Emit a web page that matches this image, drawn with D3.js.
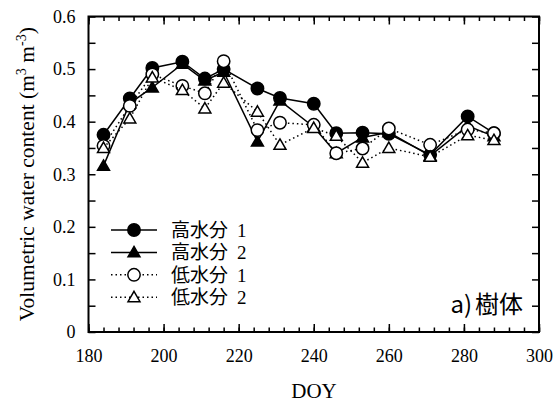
<!DOCTYPE html>
<meta charset="utf-8">
<style>
body { margin: 0; background: #fff; }
</style>
<svg class="chart"></svg>
<script src="https://d3js.org/d3.v7.min.js"></script>
<script>

var width = 555,
    height = 403;

var doy = [184, 191, 197, 205, 211, 216, 225, 231, 240, 246, 253, 260, 271, 281, 288];

var high1 = [0.375, 0.444, 0.502, 0.514, 0.482, 0.500, 0.463, 0.445, 0.434, 0.378, 0.379, 0.377, 0.337, 0.410, 0.378];
var high2 = [0.316, 0.435, 0.465, 0.510, 0.478, 0.495, 0.362, 0.440, 0.390, 0.340, 0.370, 0.380, 0.335, 0.392, 0.372];
var low1  = [0.354, 0.430, 0.490, 0.468, 0.454, 0.515, 0.384, 0.398, 0.394, 0.340, 0.349, 0.387, 0.356, 0.385, 0.378];
var low2  = [0.350, 0.406, 0.484, 0.460, 0.425, 0.474, 0.419, 0.356, 0.388, 0.373, 0.322, 0.350, 0.333, 0.374, 0.365];

var seriesNames = ["高水分", "高水分", "低水分", "低水分"];
var seriesNums = ["1", "2", "1", "2"];

var xTicks = [180, 200, 220, 240, 260, 280, 300];
var yTicks = [0, 0.1, 0.2, 0.3, 0.4, 0.5, 0.6];

var series = [
  {values: high1, shape: "circle", fill: "#000", dash: null},
  {values: high2, shape: "triangle", fill: "#000", dash: null},
  {values: low1, shape: "circle", fill: "#fff", dash: "1.5,3"},
  {values: low2, shape: "triangle", fill: "#fff", dash: "1.5,3"}
];

var x = d3.scaleLinear().domain([180, 300]).range([88.5, 539]);
var y = d3.scaleLinear().domain([0, 0.6]).range([332, 16.5]);

var svg = d3.select(".chart")
    .attr("width", width)
    .attr("height", height);

var serif = "'Liberation Serif', 'Times New Roman', serif";
var gothic = "'Noto Sans CJK JP', 'Noto Sans CJK SC', sans-serif";

// inward ticks, all four sides
var minorX = d3.range(180, 301, 4);
var minorY = d3.range(0, 0.6001, 0.05);

svg.append("g")
    .attr("transform", "translate(0," + y(0) + ")")
    .call(d3.axisBottom(x).tickValues(minorX).tickSize(-4.5).tickFormat(""))
    .call(g => g.select(".domain").remove());
svg.append("g")
    .attr("transform", "translate(0," + y(0) + ")")
    .call(d3.axisBottom(x).tickValues(xTicks).tickSize(-8).tickPadding(17).tickFormat(d3.format("d")))
    .call(g => g.select(".domain").remove())
    .call(g => g.selectAll("text").style("font-family", serif).style("font-size", "18px"));
svg.append("g")
    .attr("transform", "translate(0," + y(0.6) + ")")
    .call(d3.axisTop(x).tickValues(minorX).tickSize(-4.5).tickFormat(""))
    .call(g => g.select(".domain").remove());
svg.append("g")
    .attr("transform", "translate(0," + y(0.6) + ")")
    .call(d3.axisTop(x).tickValues(xTicks).tickSize(-8).tickFormat(""))
    .call(g => g.select(".domain").remove());

svg.append("g")
    .attr("transform", "translate(" + x(180) + ",0)")
    .call(d3.axisLeft(y).tickValues(minorY).tickSize(-7).tickFormat(""))
    .call(g => g.select(".domain").remove());
svg.append("g")
    .attr("transform", "translate(" + x(180) + ",0)")
    .call(d3.axisLeft(y).tickValues(yTicks).tickSize(0).tickPadding(13).tickFormat(d => d === 0 ? "0" : d3.format(".1f")(d)))
    .call(g => g.select(".domain").remove())
    .call(g => g.selectAll("text").style("font-family", serif).style("font-size", "18px"));
svg.append("g")
    .attr("transform", "translate(" + x(300) + ",0)")
    .call(d3.axisRight(y).tickValues(minorY).tickSize(-7).tickFormat(""))
    .call(g => g.select(".domain").remove());

svg.selectAll(".tick line").attr("stroke", "#000").attr("stroke-width", 1.5);

svg.append("rect")
    .attr("x", x(180)).attr("y", y(0.6))
    .attr("width", x(300) - x(180)).attr("height", y(0) - y(0.6))
    .attr("fill", "none").attr("stroke", "#000").attr("stroke-width", 2);

// axis titles
svg.append("text")
    .attr("x", 314).attr("y", 398)
    .attr("text-anchor", "middle")
    .style("font-family", serif).style("font-size", "21px")
    .text("DOY");

var yl = svg.append("text")
    .attr("transform", "translate(34," + (y(0) + y(0.6)) / 2 + ") rotate(-90)")
    .attr("text-anchor", "middle")
    .style("font-family", serif).style("font-size", "21.5px");
yl.append("tspan").text("Volumetric water content (m");
yl.append("tspan").style("font-size", "14px").attr("dy", -8).text("3");
yl.append("tspan").attr("dy", 8).text(" m");
yl.append("tspan").style("font-size", "14px").attr("dy", -8).text("-3");
yl.append("tspan").attr("dy", 8).text(")");

var tri = d3.symbol().type(d3.symbolTriangle).size(62);

function marker(sel, s) {
  if (s.shape === "circle") {
    sel.append("circle").attr("r", 6.2)
        .attr("fill", s.fill).attr("stroke", "#000").attr("stroke-width", 1.5);
  } else {
    sel.append("path").attr("d", tri).attr("transform", "translate(0,1)")
        .attr("fill", s.fill).attr("stroke", "#000").attr("stroke-width", 1.5);
  }
}

var line = d3.line()
    .x((d, i) => x(doy[i]))
    .y(d => y(d));

series.forEach(function(s) {
  svg.append("path")
      .datum(s.values)
      .attr("d", line)
      .attr("fill", "none")
      .attr("stroke", "#000")
      .attr("stroke-width", 1.5)
      .attr("stroke-dasharray", s.dash);
  svg.selectAll(null)
      .data(s.values)
    .enter().append("g")
      .attr("transform", (d, i) => "translate(" + x(doy[i]) + "," + y(d) + ")")
      .each(function() { marker(d3.select(this), s); });
});

// legend
var legend = svg.append("g");
series.forEach(function(s, i) {
  var ly = 230 + i * 22.4;
  legend.append("line")
      .attr("x1", 111).attr("x2", 157).attr("y1", ly).attr("y2", ly)
      .attr("stroke", "#000").attr("stroke-width", 1.5)
      .attr("stroke-dasharray", s.dash);
  var g = legend.append("g").attr("transform", "translate(134," + ly + ")");
  marker(g, s);
  legend.append("text").attr("x", 171).attr("y", ly + 7)
      .style("font-size", "19px").style("font-family", gothic)
      .text(seriesNames[i]);
  legend.append("text").attr("x", 237).attr("y", ly + 7)
      .style("font-size", "19px").style("font-family", serif)
      .text(seriesNums[i]);
});

var lab = svg.append("text")
    .attr("x", 523).attr("y", 313)
    .attr("text-anchor", "end")
    .style("font-family", gothic).style("font-size", "24px");
lab.append("tspan").text("a)");
lab.append("tspan").attr("dx", 3).text("樹体");

</script>
